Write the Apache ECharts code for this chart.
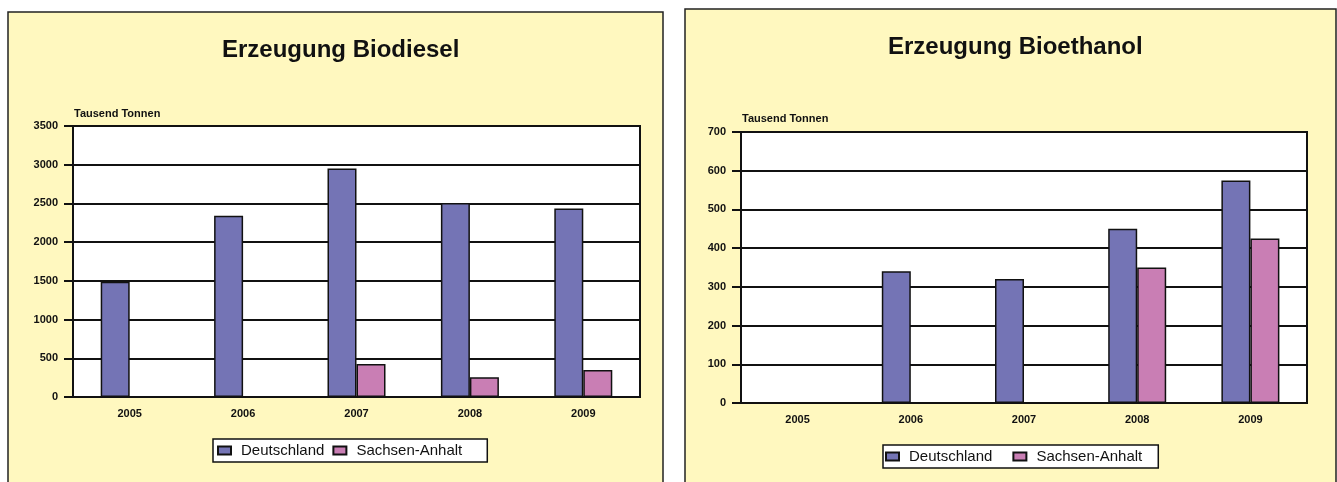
<!DOCTYPE html>
<html>
<head>
<meta charset="utf-8">
<script src="https://cdn.jsdelivr.net/npm/echarts@6/dist/echarts.min.js"></script>
<style>
html,body{margin:0;padding:0;background:#fff;}
#chart{width:1337px;height:482px;}
</style>
</head>
<body>
<div id="chart"></div>
<script>
const years = ['2005', '2006', '2007', '2008', '2009'];
const biodieselDE = [1490, 2340, 2950, 2505, 2435];
const biodieselST = [null, null, 425, 255, 350];
const ethanolDE = [null, 340, 320, 450, 575];
const ethanolST = [null, null, null, 350, 425];
const seriesNames = ['Deutschland', 'Sachsen-Anhalt'];
const titles = ['Erzeugung Biodiesel', 'Erzeugung Bioethanol'];
const unitLabel = 'Tausend Tonnen';

const colDE = '#7474B5';
const colST = '#C97EB4';
const ink = '#111';
const panelBg = '#FFF8BF';
const FONT = "'Liberation Sans', Arial, sans-serif";

const chart = echarts.init(document.getElementById('chart'), null, {renderer: 'canvas'});

function yAxis(gi, max, interval) {
  return {
    type: 'value', gridIndex: gi, min: 0, max: max, interval: interval,
    axisLine: {show: true, lineStyle: {color: ink, width: 2}},
    axisTick: {show: true, length: 9, lineStyle: {color: ink, width: 2}},
    splitLine: {show: true, lineStyle: {color: '#111', width: 2}},
    axisLabel: {margin: 15, fontFamily: FONT, fontWeight: 'bold', fontSize: 11, color: ink,
                formatter: function (v) { return String(v); }}
  };
}
function xAxis(gi) {
  return {
    type: 'category', gridIndex: gi, data: years,
    axisLine: {show: true, lineStyle: {color: ink, width: 2}},
    axisTick: {show: false},
    axisLabel: {margin: 11, fontFamily: FONT, fontWeight: 'bold', fontSize: 11, color: ink}
  };
}
function bar(name, gi, data, color) {
  return {
    type: 'bar', name: name, xAxisIndex: gi, yAxisIndex: gi, data: data,
    barWidth: 29, barGap: '0%',
    itemStyle: {color: color, borderColor: ink, borderWidth: 1.5},
    emphasis: {disabled: true}
  };
}
function legend(left, top, gap, pad) {
  return {
    data: seriesNames, left: left, top: top, orient: 'horizontal',
    itemWidth: 13, itemHeight: 8, itemGap: gap, padding: pad,
    backgroundColor: '#fff', borderColor: ink, borderWidth: 1.5, borderRadius: 0,
    icon: 'rect',
    textStyle: {fontFamily: FONT, fontSize: 15, color: ink, padding: [0, 0, 0, 5]}
  };
}

const option = {
  animation: false,
  backgroundColor: '#fff',
  graphic: [
    {type: 'rect', z: -1, shape: {x: 8, y: 12, width: 655, height: 480},
     style: {fill: panelBg, stroke: '#222', lineWidth: 1.5}},
    {type: 'rect', z: -1, shape: {x: 685, y: 9, width: 651, height: 480},
     style: {fill: panelBg, stroke: '#222', lineWidth: 1.5}},
    {type: 'text', left: 74, top: 108, style: {text: unitLabel, font: "bold 11px 'Liberation Sans', Arial, sans-serif", fill: ink}},
    {type: 'text', left: 742, top: 113, style: {text: unitLabel, font: "bold 11px 'Liberation Sans', Arial, sans-serif", fill: ink}}
  ],
  title: [
    {text: titles[0], left: 222, top: 38, padding: 0,
     textStyle: {fontFamily: FONT, fontWeight: 'bold', fontSize: 24, color: ink}},
    {text: titles[1], left: 888, top: 35, padding: 0,
     textStyle: {fontFamily: FONT, fontWeight: 'bold', fontSize: 24, color: ink}}
  ],
  legend: [
    legend(213, 439, 8, [4, 25, 4, 4]),
    legend(883, 445, 20, [4, 16, 4, 2])
  ],
  grid: [
    {left: 73, top: 126, width: 567, height: 271, show: true, backgroundColor: '#fff', borderColor: ink, borderWidth: 2, containLabel: false},
    {left: 741, top: 132, width: 566, height: 271, show: true, backgroundColor: '#fff', borderColor: ink, borderWidth: 2, containLabel: false}
  ],
  xAxis: [xAxis(0), xAxis(1)],
  yAxis: [yAxis(0, 3500, 500), yAxis(1, 700, 100)],
  series: [
    bar(seriesNames[0], 0, biodieselDE, colDE),
    bar(seriesNames[1], 0, biodieselST, colST),
    bar(seriesNames[0], 1, ethanolDE, colDE),
    bar(seriesNames[1], 1, ethanolST, colST)
  ]
};
chart.setOption(option);
</script>
</body>
</html>
